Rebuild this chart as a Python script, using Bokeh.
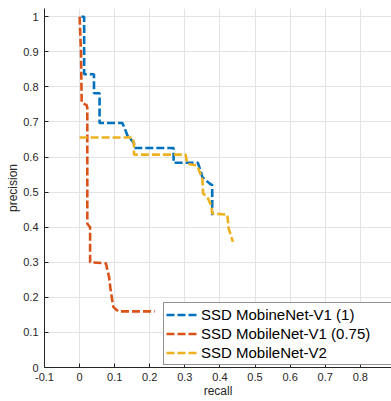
from bokeh.plotting import figure
from bokeh.models import Range1d, FixedTicker, Legend, LegendItem
from bokeh.embed import file_html
from bokeh.resources import INLINE

# ---- data ----
v1_recall = [0.005, 0.013, 0.013, 0.041, 0.041, 0.057, 0.057, 0.122, 0.131, 0.136,
             0.145, 0.155, 0.155, 0.268, 0.268, 0.337, 0.345, 0.350, 0.370, 0.378, 0.378]
v1_precision = [1.0, 1.0, 0.836, 0.836, 0.782, 0.782, 0.697, 0.697, 0.676, 0.662,
                0.652, 0.640, 0.626, 0.626, 0.584, 0.584, 0.560, 0.543, 0.525, 0.520, 0.434]

v1075_recall = [0.0, 0.004, 0.006, 0.020, 0.022, 0.022, 0.030, 0.030, 0.075, 0.084,
                0.088, 0.096, 0.104, 0.112, 0.214]
v1075_precision = [1.0, 0.90, 0.755, 0.748, 0.740, 0.410, 0.400, 0.300, 0.297, 0.258,
                   0.225, 0.173, 0.165, 0.160, 0.160]

v2_recall = [0.0, 0.150, 0.155, 0.155, 0.302, 0.307, 0.335, 0.350, 0.352, 0.364,
             0.376, 0.378, 0.421, 0.425, 0.430, 0.437]
v2_precision = [0.656, 0.656, 0.640, 0.607, 0.607, 0.581, 0.576, 0.538, 0.496, 0.486,
                0.460, 0.439, 0.436, 0.396, 0.380, 0.358]

series_names = ["SSD MobineNet-V1 (1)", "SSD MobileNet-V1 (0.75)", "SSD MobileNet-V2"]

x_ticks = [-0.1, 0.0, 0.1, 0.2, 0.3, 0.4, 0.5, 0.6, 0.7, 0.8]
x_tick_labels = ["-0.1", "0", "0.1", "0.2", "0.3", "0.4", "0.5", "0.6", "0.7", "0.8"]
y_ticks = [0.0, 0.1, 0.2, 0.3, 0.4, 0.5, 0.6, 0.7, 0.8, 0.9, 1.0]
y_tick_labels = ["0", "0.1", "0.2", "0.3", "0.4", "0.5", "0.6", "0.7", "0.8", "0.9", "1"]

colors = ["#0072BD", "#D95319", "#EDB120"]
FONT = "Liberation Sans"
AX = "#262626"

p = figure(width=391, height=401, output_backend="svg", toolbar_location=None,
           x_range=Range1d(-0.1, 0.889), y_range=Range1d(0, 1.0236),
           min_border_left=44, min_border_right=0, min_border_top=8, min_border_bottom=34)
p.outline_line_color = None
p.background_fill_color = "white"

for ax, ticks, labels in ((p.xaxis, x_ticks, x_tick_labels), (p.yaxis, y_ticks, y_tick_labels)):
    ax.ticker = FixedTicker(ticks=ticks)
    ax.major_label_overrides = {t: l for t, l in zip(ticks, labels)}
    ax.minor_tick_line_color = None
    ax.major_tick_in = 4
    ax.major_tick_out = 0
    ax.axis_line_color = AX
    ax.major_tick_line_color = AX
    ax.major_label_text_color = AX
    ax.major_label_text_font = FONT
    ax.major_label_text_font_size = "11px"
    ax.axis_label_text_font = FONT
    ax.axis_label_text_font_style = "normal"
    ax.axis_label_text_font_size = "12px"
    ax.axis_label_text_color = AX

p.xaxis.axis_label = "recall"
p.yaxis.axis_label = "precision"
p.xaxis.major_label_standoff = 5
p.xaxis.axis_label_standoff = 0
p.yaxis.major_label_standoff = 6
p.yaxis.axis_label_standoff = 0

for g in (p.xgrid, p.ygrid):
    g.grid_line_color = "#e3e3e3"
    g.grid_line_width = 1
p.xgrid.ticker = FixedTicker(ticks=x_ticks)
p.ygrid.ticker = FixedTicker(ticks=y_ticks)

renderers = []
for xs, ys, c in ((v1_recall, v1_precision, colors[0]),
                  (v1075_recall, v1075_precision, colors[1]),
                  (v2_recall, v2_precision, colors[2])):
    r = p.line(xs, ys, line_color=c, line_width=2.6, line_dash="8 3")
    renderers.append(r)

legend = Legend(items=[LegendItem(label=n, renderers=[r]) for n, r in zip(series_names, renderers)],
                location=(119, 2), orientation="vertical",
                padding=2, spacing=0, margin=0,
                glyph_width=32, glyph_height=19, label_height=19, label_width=200,
                label_standoff=3,
                label_text_font=FONT, label_text_font_size="15px", label_text_color="#000000",
                border_line_color=AX, border_line_width=1,
                background_fill_color="white", background_fill_alpha=1.0)
p.add_layout(legend)

open("out.html", "w").write(file_html(p, INLINE))
